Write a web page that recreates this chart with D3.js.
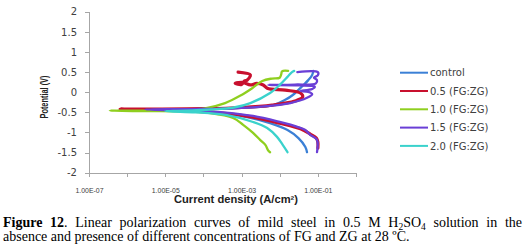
<!DOCTYPE html>
<html>
<head>
<meta charset="UTF-8">
<title>Figure 12</title>
<script src="https://d3js.org/d3.v7.min.js"></script>
<style>
  body { margin: 0; background: #fff; }
  svg { display: block; }
  .axis path, .axis line { stroke: #a6a6a6; shape-rendering: crispEdges; }
  .axis text { fill: #404040; }
</style>
</head>
<body>
<script>
  // legend order = draw order
  var seriesNames = ["control", "0.5 (FG:ZG)", "1.0 (FG:ZG)", "1.5 (FG:ZG)", "2.0 (FG:ZG)"];
  var seriesColors = ["#3b80d6", "#c8102e", "#8fcf1f", "#6a3fd6", "#3ad2cc"];

  // current density (A/cm2) and potential (V), in scan order (cathodic -> anodic)
  var controlI = [5.2e-2, 4.7e-2, 3.1e-2, 1.6e-2, 5.6e-3, 1.4e-3, 3.2e-4, 6.3e-5, 1.0e-5, 1.6e-6, 1.0e-5, 6.3e-5, 9.1e-4, 6.8e-3, 1.4e-2, 2.2e-2, 4.2e-2, 5.6e-2, 7.1e-2, 7.6e-2];
  var controlE = [-1.49, -1.36, -1.14, -0.94, -0.77, -0.62, -0.52, -0.47, -0.455, -0.45, -0.44, -0.43, -0.39, -0.32, -0.19, -0.07, 0.18, 0.30, 0.43, 0.53];

  var fg05I = [1.0e-1, 1.0e-1, 9.1e-2, 6.3e-2, 3.5e-2, 1.0e-2, 2.0e-3, 3.2e-4, 5.0e-5, 6.3e-6, 6.5e-7, 6.3e-6, 1.0e-4, 1.0e-3, 6.3e-3, 2.5e-2, 4.0e-2, 3.5e-2, 1.4e-2, 4.7e-3, 3.7e-3, 2.5e-3, 1.7e-3, 1.1e-3, 6.8e-4, 1.0e-3, 1.2e-3, 1.4e-3, 1.7e-3, 8.1e-4];
  var fg05E = [-1.39, -1.24, -1.14, -1.04, -0.91, -0.77, -0.62, -0.52, -0.47, -0.44, -0.42, -0.42, -0.41, -0.38, -0.32, -0.22, -0.12, -0.02, 0.05, 0.10, 0.18, 0.22, 0.18, 0.24, 0.22, 0.19, 0.28, 0.30, 0.43, 0.50];

  var fg10I = [5.6e-3, 5.0e-3, 4.2e-3, 3.1e-3, 2.0e-3, 1.1e-3, 6.0e-4, 1.5e-4, 3.2e-5, 3.2e-6, 3.5e-7, 3.2e-6, 3.2e-5, 1.1e-4, 3.7e-4, 9.1e-4, 1.9e-3, 3.5e-3, 6.3e-3, 1.0e-2, 1.1e-2, 1.15e-2, 1.66e-2];
  var fg10E = [-1.49, -1.45, -1.31, -1.19, -1.01, -0.81, -0.64, -0.52, -0.48, -0.47, -0.46, -0.46, -0.44, -0.40, -0.27, -0.09, 0.10, 0.28, 0.34, 0.36, 0.45, 0.52, 0.53];

  var fg15I = [9.5e-2, 9.5e-2, 6.3e-2, 4.7e-2, 2.9e-2, 1.0e-2, 2.0e-3, 3.2e-4, 5.0e-5, 3.0e-6, 5.0e-5, 6.3e-4, 3.2e-3, 1.9e-2, 5.2e-2, 7.1e-2, 5.6e-2, 3.5e-2, 7.1e-2, 8.3e-2, 3.2e-2, 5.0e-3, 2.5e-2, 8.9e-2, 9.5e-2, 7.9e-2, 1.0e-1, 1.0e-1, 2.9e-2];
  var fg15E = [-1.49, -1.19, -1.06, -0.94, -0.86, -0.74, -0.59, -0.50, -0.46, -0.43, -0.42, -0.40, -0.36, -0.27, -0.14, -0.05, 0.01, 0.03, 0.08, 0.14, 0.17, 0.18, 0.19, 0.22, 0.30, 0.36, 0.42, 0.50, 0.50];

  var fg20I = [1.6e-2, 1.2e-2, 8.5e-3, 4.7e-3, 2.0e-3, 4.2e-4, 6.3e-5, 1.6e-5, 1.0e-5, 3.2e-5, 1.6e-4, 6.3e-4, 1.7e-3, 5.6e-3, 1.0e-2, 1.6e-2, 2.1e-2, 2.4e-2];
  var fg20E = [-1.49, -1.31, -1.11, -0.89, -0.74, -0.57, -0.50, -0.48, -0.47, -0.46, -0.43, -0.38, -0.27, -0.02, 0.18, 0.38, 0.50, 0.53];

  var seriesI = [controlI, fg05I, fg10I, fg15I, fg20I];
  var seriesE = [controlE, fg05E, fg10E, fg15E, fg20E];

  // axes
  var xTickValues = [1e-7, 1e-6, 1e-5, 1e-4, 1e-3, 1e-2, 1e-1, 1];
  var xLabelValues = [1e-7, 1e-5, 1e-3, 1e-1];
  var xTickLabels = ["1.00E-07", "1.00E-05", "1.00E-03", "1.00E-01"];
  var yTickValues = [-2, -1.5, -1, -0.5, 0, 0.5, 1, 1.5, 2];
  var yTickLabels = ["-2", "-1.5", "-1", "-0.5", "0", "0.5", "1", "1.5", "2"];

  var captionLine1 = "**Figure** **12**. Linear polarization curves of mild steel in 0.5 M H_2SO_4 solution in the";
  var captionLine2 = "absence and presence of different concentrations of FG and ZG at 28 ºC.";

  var W = 528, H = 247;
  var svg = d3.select("body").append("svg").attr("width", W).attr("height", H);

  var x = d3.scaleLog().domain([1e-7, 1]).range([89, 356]);
  var y = d3.scaleLinear().domain([-2, 2]).range([172.7, 11.7]);

  var xAxis = d3.axisBottom(x)
    .tickValues(xTickValues)
    .tickSize(4)
    .tickSizeOuter(0)
    .tickPadding(11)
    .tickFormat(function (d) {
      var k = xLabelValues.indexOf(d);
      return k < 0 ? "" : xTickLabels[k];
    });

  var gx = svg.append("g")
    .attr("class", "axis")
    .attr("transform", "translate(0," + y(-2) + ")")
    .call(xAxis);
  gx.selectAll("text")
    .attr("font-family", "Liberation Sans, Arial, sans-serif")
    .attr("font-size", 8)
    .attr("textLength", function () { return this.textContent ? 28 : null; })
    .attr("lengthAdjust", "spacingAndGlyphs");

  var yAxis = d3.axisLeft(y)
    .tickValues(yTickValues)
    .tickSize(4)
    .tickSizeOuter(0)
    .tickPadding(8)
    .tickFormat(function (d, i) { return yTickLabels[i]; });

  var gy = svg.append("g")
    .attr("class", "axis")
    .attr("transform", "translate(" + x(1e-7) + ",0)")
    .call(yAxis);
  gy.selectAll("text")
    .attr("font-family", "DejaVu Sans, sans-serif")
    .attr("font-size", 10);

  // axis titles
  svg.append("text")
    .attr("x", 236)
    .attr("y", 202.7)
    .attr("text-anchor", "middle")
    .attr("font-family", "Liberation Sans, Arial, sans-serif")
    .attr("font-weight", "bold")
    .attr("font-size", 10)
    .attr("fill", "#222")
    .attr("textLength", 124)
    .attr("lengthAdjust", "spacingAndGlyphs")
    .text("Current density (A/cm²)");

  svg.append("text")
    .attr("transform", "translate(48,97) rotate(-90)")
    .attr("text-anchor", "middle")
    .attr("font-family", "Liberation Sans, Arial, sans-serif")
    .attr("font-weight", "bold")
    .attr("font-size", 10.5)
    .attr("fill", "#222")
    .attr("textLength", 43)
    .attr("lengthAdjust", "spacingAndGlyphs")
    .text("Potential (V)");

  // curves
  var line = d3.line()
    .x(function (d) { return x(d[0]); })
    .y(function (d) { return y(d[1]); })
    .curve(d3.curveCatmullRom.alpha(0.5));

  seriesNames.forEach(function (name, s) {
    var pts = seriesI[s].map(function (v, i) { return [v, seriesE[s][i]]; });
    svg.append("path")
      .datum(pts)
      .attr("d", line)
      .attr("fill", "none")
      .attr("stroke", seriesColors[s])
      .attr("stroke-width", s === 1 ? 3.2 : 2.3)
      .attr("stroke-linejoin", "round")
      .attr("stroke-linecap", "round");
  });

  // legend
  var legend = svg.append("g");
  seriesNames.forEach(function (name, s) {
    var ly = 72.7 + s * 18.3;
    legend.append("line")
      .attr("x1", 400).attr("x2", 428)
      .attr("y1", ly).attr("y2", ly)
      .attr("stroke", seriesColors[s])
      .attr("stroke-width", 2);
    legend.append("text")
      .attr("x", 430)
      .attr("y", ly)
      .attr("dy", "0.36em")
      .attr("font-family", "DejaVu Sans, sans-serif")
      .attr("font-size", 10)
      .attr("fill", "#404040")
      .text(name);
  });

  // caption (serif, first line justified)
  function addWord(g, word) {
    var t = g.append("text")
      .attr("font-family", "Liberation Serif, Times New Roman, serif")
      .attr("font-size", 14)
      .attr("fill", "#000");
    var parts = word.split(/(\*\*[^*]+\*\*|_\d)/).filter(function (p) { return p !== ""; });
    var lowered = false;
    parts.forEach(function (p) {
      if (p.indexOf("**") === 0) {
        t.append("tspan").attr("font-weight", "bold").text(p.slice(2, -2));
      } else if (p[0] === "_") {
        t.append("tspan").attr("font-size", 9.5).attr("dy", 3).text(p.slice(1));
        lowered = true;
      } else {
        var ts = t.append("tspan").text(p);
        if (lowered) { ts.attr("dy", -3); lowered = false; }
      }
    });
    return t;
  }

  function captionLine(str, yBase, x0, x1) {
    var g = svg.append("g");
    var words = str.split(" ");
    var nodes = words.map(function (w) { return addWord(g, w).attr("y", yBase); });
    var widths = nodes.map(function (n) { return n.node().getComputedTextLength(); });
    var gap;
    if (x1) {
      gap = (x1 - x0 - d3.sum(widths)) / (words.length - 1);
    } else {
      gap = 3.5;
    }
    var cx = x0;
    nodes.forEach(function (n, i) {
      n.attr("x", cx);
      cx += widths[i] + gap;
    });
  }

  captionLine(captionLine1, 227.3, 3, 522);
  captionLine(captionLine2, 240.7, 3, null);
</script>
</body>
</html>
